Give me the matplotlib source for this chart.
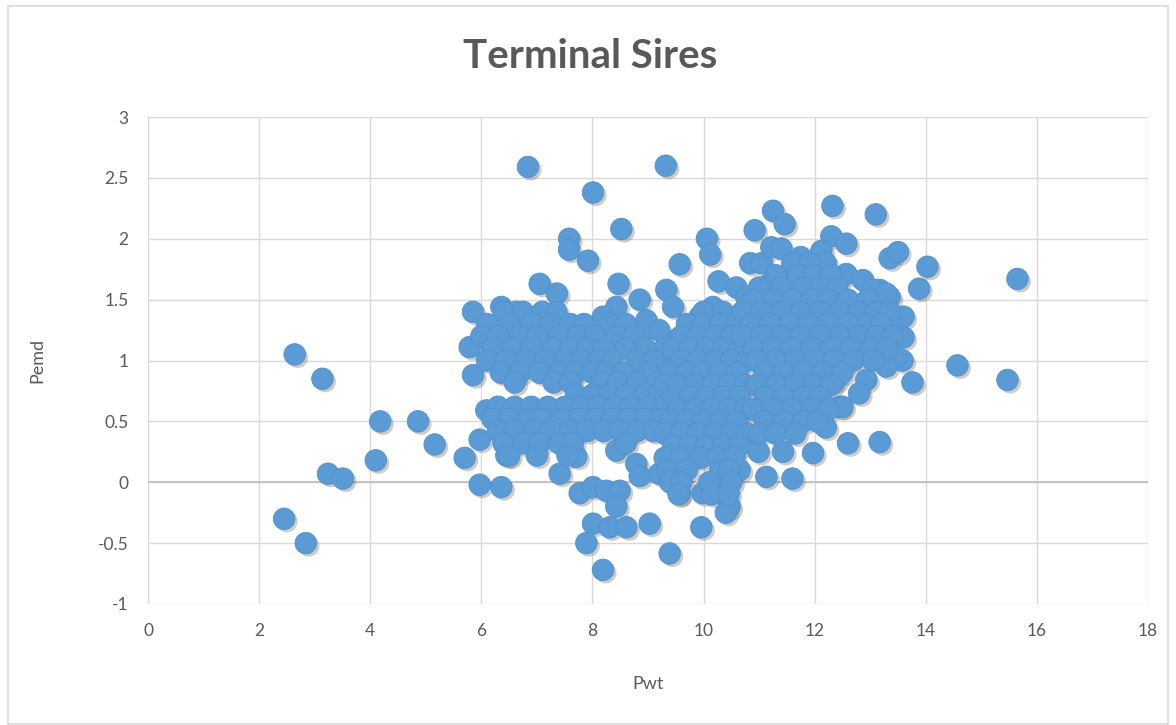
import matplotlib
matplotlib.use("Agg")
import matplotlib.pyplot as plt
import matplotlib.patheffects as pe
from matplotlib.patches import Rectangle

# isolated / edge points (Pwt, Pemd)
sparse_pwt = [2.45, 2.84, 2.64, 3.14, 3.24, 3.51, 4.10, 4.18, 4.86, 5.16, 5.70, 5.97, 6.36,
              5.85, 5.79, 5.85, 6.09, 5.97, 6.45, 6.84, 8.01, 9.32, 7.58, 7.58, 7.92, 8.52,
              7.05, 7.36, 8.47, 9.57, 9.33, 9.45, 6.36, 6.63, 7.41, 7.71, 8.43, 8.79, 8.85,
              9.20, 7.77, 8.01, 8.25, 8.49, 8.43, 8.01, 8.31, 8.61, 9.03, 7.89, 8.19, 9.39,
              9.96, 10.47, 10.40, 11.13, 11.60, 12.20, 12.60, 13.17, 11.97, 10.99, 11.43,
              11.25, 11.46, 12.32, 13.10, 10.92, 10.06, 10.12, 10.84, 11.05, 11.22, 11.40,
              11.75, 12.30, 12.57, 12.12, 12.20, 13.35, 13.50, 10.27, 10.59, 10.77, 11.19,
              11.49, 12.57, 12.87, 13.17, 13.35, 14.03, 13.88, 15.65, 13.60, 13.60, 13.58,
              13.76, 14.57, 15.47, 13.40, 13.47, 13.29, 12.93, 12.80, 12.38, 12.45, 8.85,
              8.97, 8.90, 8.43, 8.19, 9.93, 10.17, 9.51, 9.36, 13.05, 13.29, 10.65, 9.57,
              9.98, 10.34, 12.50, 9.20, 9.30]
sparse_pemd = [-0.30, -0.50, 1.05, 0.85, 0.07, 0.03, 0.18, 0.50, 0.50, 0.31, 0.20, -0.02, -0.04,
               1.40, 1.11, 0.88, 0.59, 0.35, 0.22, 2.59, 2.38, 2.60, 2.00, 1.91, 1.82, 2.08,
               1.63, 1.55, 1.63, 1.79, 1.58, 1.44, 1.44, 1.40, 0.07, 0.21, 0.26, 0.15, 0.05,
               0.07, -0.09, -0.04, -0.07, -0.07, -0.20, -0.34, -0.37, -0.37, -0.34, -0.50, -0.72, -0.585,
               -0.37, -0.20, -0.25, 0.045, 0.03, 0.45, 0.32, 0.33, 0.24, 0.25, 0.25,
               2.23, 2.12, 2.27, 2.20, 2.07, 2.00, 1.87, 1.80, 1.80, 1.93, 1.92,
               1.85, 2.02, 1.96, 1.90, 1.80, 1.84, 1.89, 1.65, 1.60, 1.52, 1.63,
               1.70, 1.71, 1.66, 1.58, 1.52, 1.77, 1.59, 1.67, 1.36, 1.19, 1.00,
               0.82, 0.96, 0.84, 1.27, 1.03, 0.95, 0.84, 0.73, 0.84, 0.62, 1.50,
               1.33, 1.22, 1.44, 1.36, 1.36, 1.44, 1.17, 0.98, 1.58, 1.55, 0.10, -0.09,
               -0.09, -0.09, 0.62, 1.25, 1.10]

# dense cloud, row by row: Pemd -> Pwt values seen along that row
left_rows = {
    1.40: [6.40, 6.75, 7.10, 7.35],
    1.30: [6.10, 6.50, 6.90, 7.25, 7.60, 7.85, 8.30, 8.60],
    1.20: [6.00, 6.30, 6.70, 7.00, 7.40, 7.75, 8.05, 8.45, 8.75],
    1.10: [6.20, 6.55, 6.90, 7.30, 7.60, 7.90, 8.20, 8.60, 8.95],
    1.00: [6.10, 6.45, 6.80, 7.15, 7.50, 7.80, 8.10, 8.35, 8.80, 9.10],
    0.90: [6.35, 6.70, 7.05, 7.40, 7.70, 8.00, 8.25, 8.55, 9.00],
    0.82: [6.60, 7.30, 7.60, 8.15, 8.45, 8.80, 9.15],
    0.72: [7.70, 8.00, 8.30, 8.60, 8.95, 9.20],
    0.62: [6.30, 6.60, 6.90, 7.20, 7.50, 7.80, 8.10, 8.40, 8.70, 9.00, 9.30],
    0.52: [6.20, 6.50, 6.85, 7.10, 7.45, 7.75, 8.05, 8.35, 8.65, 8.95, 9.25],
    0.42: [6.30, 6.60, 6.95, 7.25, 7.60, 7.90, 8.20, 8.50, 8.80, 9.10],
    0.32: [6.40, 6.75, 7.05, 7.40, 7.65, 8.60],
    0.22: [6.50, 7.00, 7.55],
}
center_rows = {
    1.40: [10.00, 10.35],
    1.30: [9.70, 10.00, 10.30, 10.60],
    1.20: [9.60, 9.90, 10.20, 10.50, 10.75],
    1.10: [9.45, 9.75, 10.05, 10.35, 10.65],
    1.00: [9.60, 9.90, 10.20, 10.50, 10.80],
    0.90: [9.40, 9.70, 10.00, 10.30, 10.60],
    0.80: [9.30, 9.55, 9.85, 10.15, 10.45, 10.75],
    0.70: [9.45, 9.75, 10.05, 10.35, 10.65],
    0.60: [9.55, 9.85, 10.15, 10.45, 10.75],
    0.50: [9.40, 9.70, 10.00, 10.30, 10.60],
    0.40: [9.30, 9.60, 9.90, 10.20, 10.50, 10.80],
    0.30: [9.45, 9.75, 10.05, 10.35, 10.65],
    0.20: [9.30, 9.60, 9.95, 10.25, 10.55],
    0.10: [9.35, 9.70, 10.30, 10.45],
    0.00: [9.40, 9.60, 10.10, 10.50],
    -0.10: [9.55, 10.15, 10.45],
}
right_rows = {
    1.80: [11.60, 11.90],
    1.70: [11.30, 11.70, 12.00, 12.30],
    1.60: [11.00, 11.40, 11.80, 12.10, 12.40],
    1.50: [10.90, 11.25, 11.60, 11.95, 12.25, 12.60, 12.95],
    1.40: [10.70, 11.05, 11.40, 11.75, 12.10, 12.45, 12.80, 13.10, 13.35],
    1.30: [10.85, 11.20, 11.55, 11.90, 12.25, 12.60, 12.95, 13.20],
    1.20: [10.70, 11.05, 11.40, 11.75, 12.10, 12.45, 12.80, 13.10, 13.40],
    1.10: [10.90, 11.25, 11.60, 11.95, 12.30, 12.65, 13.00, 13.30],
    1.00: [10.95, 11.30, 11.65, 12.00, 12.35, 12.70, 13.05],
    0.90: [11.10, 11.45, 11.80, 12.15, 12.50],
    0.80: [10.95, 11.30, 11.65, 12.00, 12.30],
    0.70: [11.10, 11.45, 11.80, 12.10],
    0.60: [10.90, 11.25, 11.60, 11.95, 12.25],
    0.50: [11.10, 11.45, 11.80, 12.05],
    0.40: [11.00, 11.30, 11.65],
}

pwt = list(sparse_pwt)
pemd = list(sparse_pemd)
for rows in (left_rows, center_rows, right_rows):
    for yv, xvals in rows.items():
        for xv in xvals:
            pwt.append(xv)
            pemd.append(yv)

fig = plt.figure(figsize=(11.76, 7.25), dpi=100)
fig.patches.append(Rectangle((8 / 1176, 0.002), 1160 / 1176, 1 - 7 / 725,
                             transform=fig.transFigure, fill=False,
                             edgecolor="#D9D9D9", linewidth=1.2))
ax = fig.add_axes([148 / 1176, 1 - 604 / 725, 1000 / 1176, 487 / 725])

sc = ax.scatter(pwt, pemd, s=240, c="#5B9BD5", edgecolors="#5190CE",
                linewidths=0.6, zorder=3)
sc.set_path_effects([pe.SimplePatchShadow(offset=(2, -2), shadow_rgbFace="#7a6a5a",
                                          alpha=0.35), pe.Normal()])

ax.set_xlim(0, 18)
ax.set_ylim(-1, 3)
ax.set_xticks(range(0, 19, 2))
ax.set_yticks([-1, -0.5, 0, 0.5, 1, 1.5, 2, 2.5, 3])
ax.set_yticklabels(["-1", "-0.5", "0", "0.5", "1", "1.5", "2", "2.5", "3"])
ax.grid(True, color="#D9D9D9", linewidth=1)
ax.set_axisbelow(True)
ax.axhline(0, color="#BFBFBF", linewidth=1.3, zorder=1)
for s in ax.spines.values():
    s.set_visible(False)
ax.tick_params(length=0, labelsize=12.5, labelcolor="#595959", pad=14)
for lab in ax.get_xticklabels() + ax.get_yticklabels():
    lab.set_family("Lato")

ax.set_xlabel("Pwt", fontsize=13, color="#595959", family="Lato", labelpad=26)
ax.set_ylabel("Pemd", fontsize=13, color="#595959", family="Lato", labelpad=38)
fig.text(0.502, 1 - 57 / 725, "Terminal Sires", ha="center", va="center",
         fontsize=29, fontweight="bold", color="#595959", family="Lato")

fig.savefig("out.png", dpi=100)
